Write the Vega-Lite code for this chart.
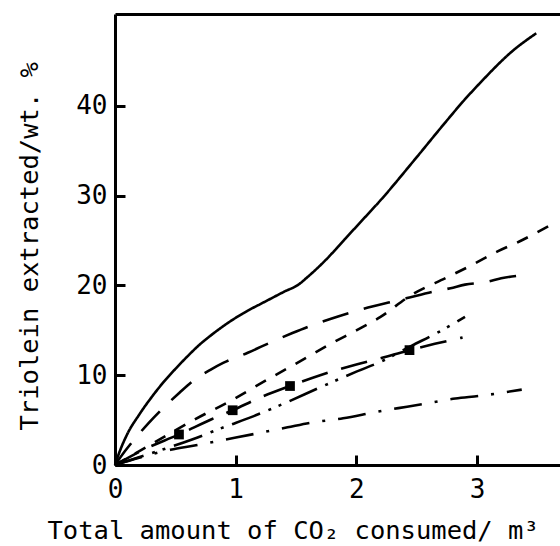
{
  "$schema": "https://vega.github.io/schema/vega-lite/v6.json",
  "autosize": {"type": "none"},
  "width": 445,
  "height": 451,
  "padding": {"left": 115, "top": 14, "right": 0, "bottom": 81},
  "background": "white",
  "config": {
    "view": {"stroke": null},
    "axis": {
      "grid": false,
      "domainColor": "black",
      "domainWidth": 3,
      "tickColor": "black",
      "tickWidth": 3,
      "labelFont": "DejaVu Sans Mono",
      "labelColor": "black",
      "labelFontSize": 26,
      "titleFont": "DejaVu Sans Mono",
      "titleColor": "black",
      "titleFontSize": 25.5,
      "titleFontWeight": "normal"
    }
  },
  "datasets": {
    "curves": [
      {"series": "A", "x": 0, "y": 0},
      {"series": "A", "x": 0.025, "y": 1.0},
      {"series": "A", "x": 0.1, "y": 3.4},
      {"series": "A", "x": 0.2, "y": 5.6},
      {"series": "A", "x": 0.3, "y": 7.5},
      {"series": "A", "x": 0.4, "y": 9.2},
      {"series": "A", "x": 0.5, "y": 10.7},
      {"series": "A", "x": 0.6, "y": 12.1},
      {"series": "A", "x": 0.7, "y": 13.4},
      {"series": "A", "x": 0.8, "y": 14.5},
      {"series": "A", "x": 0.9, "y": 15.5},
      {"series": "A", "x": 1.0, "y": 16.4},
      {"series": "A", "x": 1.1, "y": 17.2},
      {"series": "A", "x": 1.2, "y": 17.9},
      {"series": "A", "x": 1.3, "y": 18.6},
      {"series": "A", "x": 1.4, "y": 19.3},
      {"series": "A", "x": 1.52, "y": 20.1},
      {"series": "A", "x": 1.6, "y": 21.0},
      {"series": "A", "x": 1.75, "y": 22.9},
      {"series": "A", "x": 1.9, "y": 25.1},
      {"series": "A", "x": 2.03, "y": 27.0},
      {"series": "A", "x": 2.2, "y": 29.5},
      {"series": "A", "x": 2.5, "y": 34.3},
      {"series": "A", "x": 2.72, "y": 37.9},
      {"series": "A", "x": 2.89, "y": 40.6},
      {"series": "A", "x": 3.02, "y": 42.5},
      {"series": "A", "x": 3.3, "y": 46.2},
      {"series": "A", "x": 3.49, "y": 48.1},
      {"series": "B", "x": 0, "y": 0},
      {"series": "B", "x": 0.08, "y": 1.5},
      {"series": "B", "x": 0.17, "y": 3.0},
      {"series": "B", "x": 0.28, "y": 4.7},
      {"series": "B", "x": 0.38, "y": 6.1},
      {"series": "B", "x": 0.53, "y": 8.0},
      {"series": "B", "x": 0.63, "y": 9.2},
      {"series": "B", "x": 0.79, "y": 10.6},
      {"series": "B", "x": 0.9, "y": 11.4},
      {"series": "B", "x": 1.1, "y": 12.5},
      {"series": "B", "x": 1.23, "y": 13.3},
      {"series": "B", "x": 1.47, "y": 14.7},
      {"series": "B", "x": 1.6, "y": 15.4},
      {"series": "B", "x": 1.79, "y": 16.3},
      {"series": "B", "x": 2.03, "y": 17.3},
      {"series": "B", "x": 2.36, "y": 18.4},
      {"series": "B", "x": 2.6, "y": 19.2},
      {"series": "B", "x": 2.78, "y": 19.7},
      {"series": "B", "x": 2.9, "y": 20.1},
      {"series": "B", "x": 3.08, "y": 20.4},
      {"series": "B", "x": 3.2, "y": 20.8},
      {"series": "B", "x": 3.42, "y": 21.2},
      {"series": "C", "x": 0, "y": 0},
      {"series": "C", "x": 0.3, "y": 2.3},
      {"series": "C", "x": 0.65, "y": 5.0},
      {"series": "C", "x": 0.95, "y": 7.1},
      {"series": "C", "x": 1.3, "y": 9.8},
      {"series": "C", "x": 1.5, "y": 11.3},
      {"series": "C", "x": 1.8, "y": 13.6},
      {"series": "C", "x": 2.0, "y": 15.0},
      {"series": "C", "x": 2.2, "y": 16.5},
      {"series": "C", "x": 2.45, "y": 18.9},
      {"series": "C", "x": 2.75, "y": 20.9},
      {"series": "C", "x": 2.96, "y": 22.3},
      {"series": "C", "x": 3.17, "y": 23.8},
      {"series": "C", "x": 3.35, "y": 24.9},
      {"series": "C", "x": 3.59, "y": 26.6},
      {"series": "D", "x": 0, "y": 0},
      {"series": "D", "x": 0.3, "y": 1.3},
      {"series": "D", "x": 0.65, "y": 2.9},
      {"series": "D", "x": 0.9, "y": 4.2},
      {"series": "D", "x": 1.15, "y": 5.45},
      {"series": "D", "x": 1.4, "y": 6.85},
      {"series": "D", "x": 1.7, "y": 8.65},
      {"series": "D", "x": 2.0, "y": 10.4},
      {"series": "D", "x": 2.2, "y": 11.5},
      {"series": "D", "x": 2.46, "y": 13.3},
      {"series": "D", "x": 2.68, "y": 14.8},
      {"series": "D", "x": 2.9, "y": 16.5},
      {"series": "E", "x": 0, "y": 0},
      {"series": "E", "x": 0.25, "y": 1.8},
      {"series": "E", "x": 0.53, "y": 3.4},
      {"series": "E", "x": 0.8, "y": 5.1},
      {"series": "E", "x": 0.975, "y": 6.1},
      {"series": "E", "x": 1.2, "y": 7.5},
      {"series": "E", "x": 1.45, "y": 8.8},
      {"series": "E", "x": 1.7, "y": 10.0},
      {"series": "E", "x": 2.0, "y": 11.2},
      {"series": "E", "x": 2.2, "y": 11.9},
      {"series": "E", "x": 2.44, "y": 12.8},
      {"series": "E", "x": 2.65, "y": 13.5},
      {"series": "E", "x": 2.88, "y": 14.2},
      {"series": "F", "x": 0, "y": 0},
      {"series": "F", "x": 0.2, "y": 0.8},
      {"series": "F", "x": 0.46, "y": 1.7},
      {"series": "F", "x": 0.67, "y": 2.2},
      {"series": "F", "x": 0.9, "y": 2.8},
      {"series": "F", "x": 1.17, "y": 3.5},
      {"series": "F", "x": 1.43, "y": 4.2},
      {"series": "F", "x": 1.64, "y": 4.75},
      {"series": "F", "x": 1.89, "y": 5.2},
      {"series": "F", "x": 2.16, "y": 5.9},
      {"series": "F", "x": 2.42, "y": 6.5},
      {"series": "F", "x": 2.64, "y": 7.0},
      {"series": "F", "x": 2.82, "y": 7.4},
      {"series": "F", "x": 3.02, "y": 7.7},
      {"series": "F", "x": 3.37, "y": 8.4}
    ],
    "squares": [
      {"x": 0.53, "y": 3.4},
      {"x": 0.975, "y": 6.1},
      {"x": 1.45, "y": 8.8},
      {"x": 2.44, "y": 12.8}
    ]
  },
  "resolve": {"axis": {"x": "independent"}},
  "layer": [
    {
      "data": {"name": "curves"},
      "mark": {"type": "line", "color": "black", "strokeWidth": 2.6, "interpolate": "monotone", "strokeCap": "butt"},
      "encoding": {
        "x": {
          "field": "x", "type": "quantitative",
          "scale": {"domain": [0, 3.687], "nice": false, "zero": false},
          "axis": {
            "orient": "bottom",
            "values": [0, 1, 2, 3],
            "tickSize": -10,
            "labelPadding": 21,
            "labelBaseline": "top",
            "labelFlush": false,
            "title": "Total amount of CO₂ consumed/ m³",
            "titleAlign": "left",
            "titleBaseline": "alphabetic",
            "titleX": -68,
            "titleY": 73,
            "titleAngle": 0
          }
        },
        "y": {
          "field": "y", "type": "quantitative",
          "scale": {"domain": [0, 50.25], "nice": false, "zero": false},
          "axis": {
            "values": [0, 10, 20, 30, 40],
            "tickSize": -10,
            "labelPadding": 18,
            "labelFlush": false,
            "title": "Triolein extracted/wt. %",
            "titleAlign": "left",
            "titleBaseline": "alphabetic",
            "titleAngle": 270,
            "titleX": -78,
            "titleY": 416
          }
        },
        "strokeDash": {
          "field": "series", "type": "nominal",
          "scale": {
            "domain": ["A", "B", "C", "D", "E", "F"],
            "range": [[1, 0], [27, 16], [12, 11], [30, 9, 3, 8, 3, 9], [27, 14], [28, 13, 3, 13]]
          },
          "legend": null
        },
        "detail": {"field": "series"}
      }
    },
    {
      "data": {"name": "squares"},
      "mark": {"type": "point", "shape": "square", "filled": true, "color": "black", "opacity": 1, "size": 95},
      "encoding": {
        "x": {
          "field": "x", "type": "quantitative",
          "scale": {"domain": [0, 3.687], "nice": false, "zero": false},
          "axis": {"orient": "top", "ticks": false, "labels": false, "title": null, "domainWidth": 3}
        },
        "y": {"field": "y", "type": "quantitative"}
      }
    }
  ]
}
